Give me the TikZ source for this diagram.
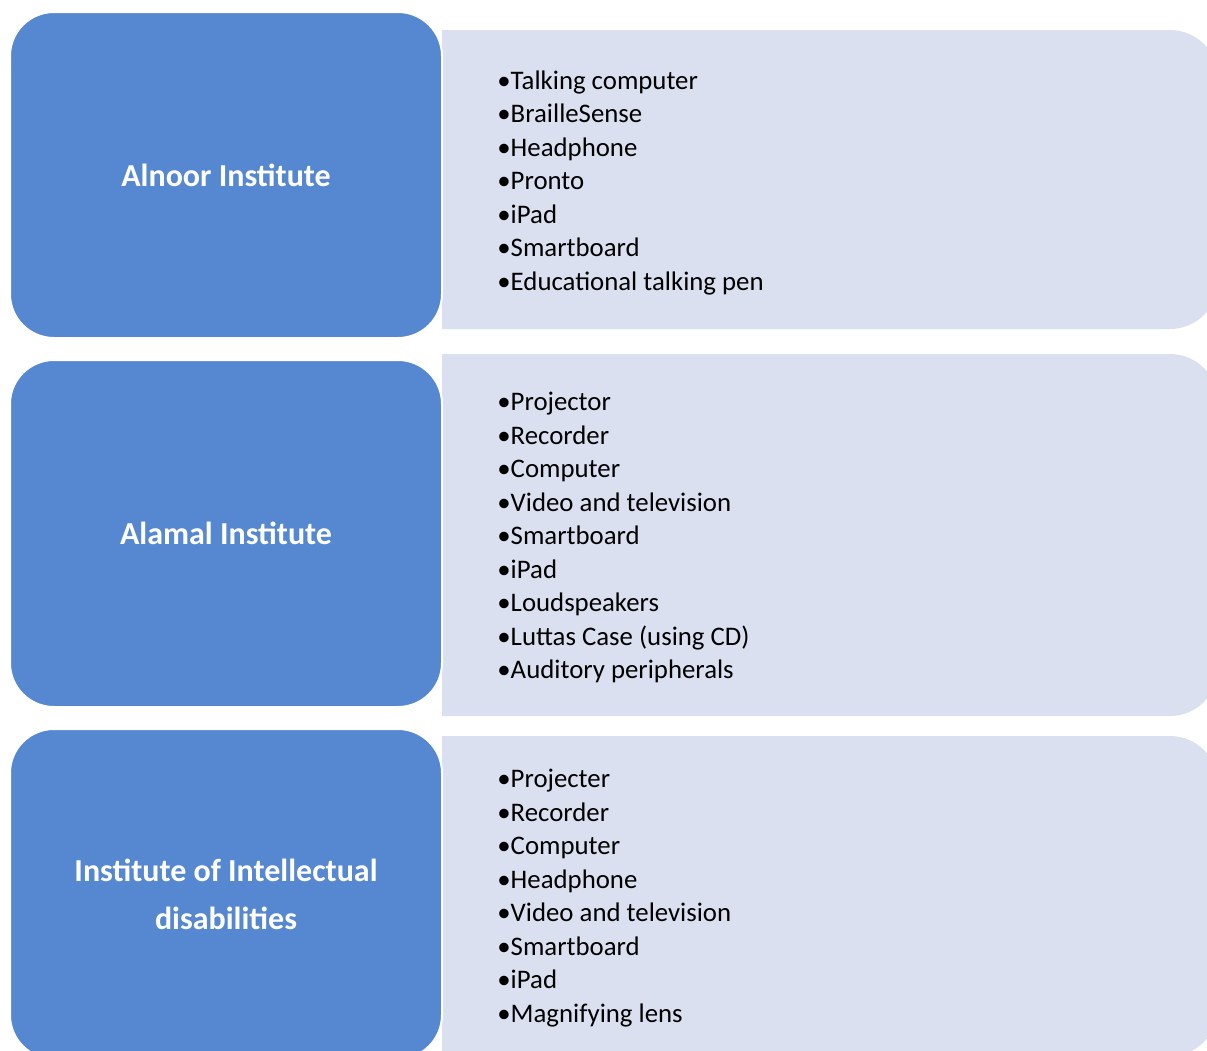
\documentclass[tikz,border=0pt]{standalone}
\usepackage{fontspec}
\setmainfont{Carlito}

\definecolor{instblue}{RGB}{85,136,208}
\definecolor{listgray}{RGB}{218,224,239}

\begin{document}
\begin{tikzpicture}[x=0.5pt, y=-0.5pt,
    % Define the styles for the institute boxes and their lists
    instbox/.style={fill=instblue, draw=white, line width=1pt, rounded corners=22pt,
        text=white, font=\fontsize{16}{24}\selectfont\bfseries, align=center},
    listbox/.style={fill=listgray},
    listtext/.style={font=\fontsize{13.4}{16.75}\selectfont, align=left, anchor=west, inner sep=0pt}
]

\useasboundingbox (0,0) rectangle (1207,1051);
\clip (0,0) rectangle (1207,1051);

% Draw the list boxes (rounded on the right only)
\fill[listbox] (442,30) [rounded corners=24pt] -- (1218,30) -- (1218,329) [sharp corners] -- (442,329) -- cycle;
\fill[listbox] (442,354) [rounded corners=24pt] -- (1218,354) -- (1218,716) [sharp corners] -- (442,716) -- cycle;
\fill[listbox] (442,736) [rounded corners=24pt] -- (1218,736) -- (1218,1056) [sharp corners] -- (442,1056) -- cycle;

% Draw the institute boxes
\node[instbox, minimum width=216pt, minimum height=163pt] (alnoor) at (226,175) {Alnoor Institute};
\node[instbox, minimum width=216pt, minimum height=173.5pt] (alamal) at (226,533.5) {Alamal Institute};
\node[instbox, minimum width=216pt, minimum height=165pt] (intellectual) at (226,894) {Institute of Intellectual\\disabilities};

% Add the lists of tools
\node[listtext] (alnoorlist) at (497,182.5) {•Talking computer\\•BrailleSense\\•Headphone\\•Pronto\\•iPad\\•Smartboard\\•Educational talking pen};
\node[listtext] (alamallist) at (497,537.5) {•Projector\\•Recorder\\•Computer\\•Video and television\\•Smartboard\\•iPad\\•Loudspeakers\\•Luttas Case (using CD)\\•Auditory peripherals};
\node[listtext] (intellectuallist) at (497,898) {•Projecter\\•Recorder\\•Computer\\•Headphone\\•Video and television\\•Smartboard\\•iPad\\•Magnifying lens};

\end{tikzpicture}
\end{document}
